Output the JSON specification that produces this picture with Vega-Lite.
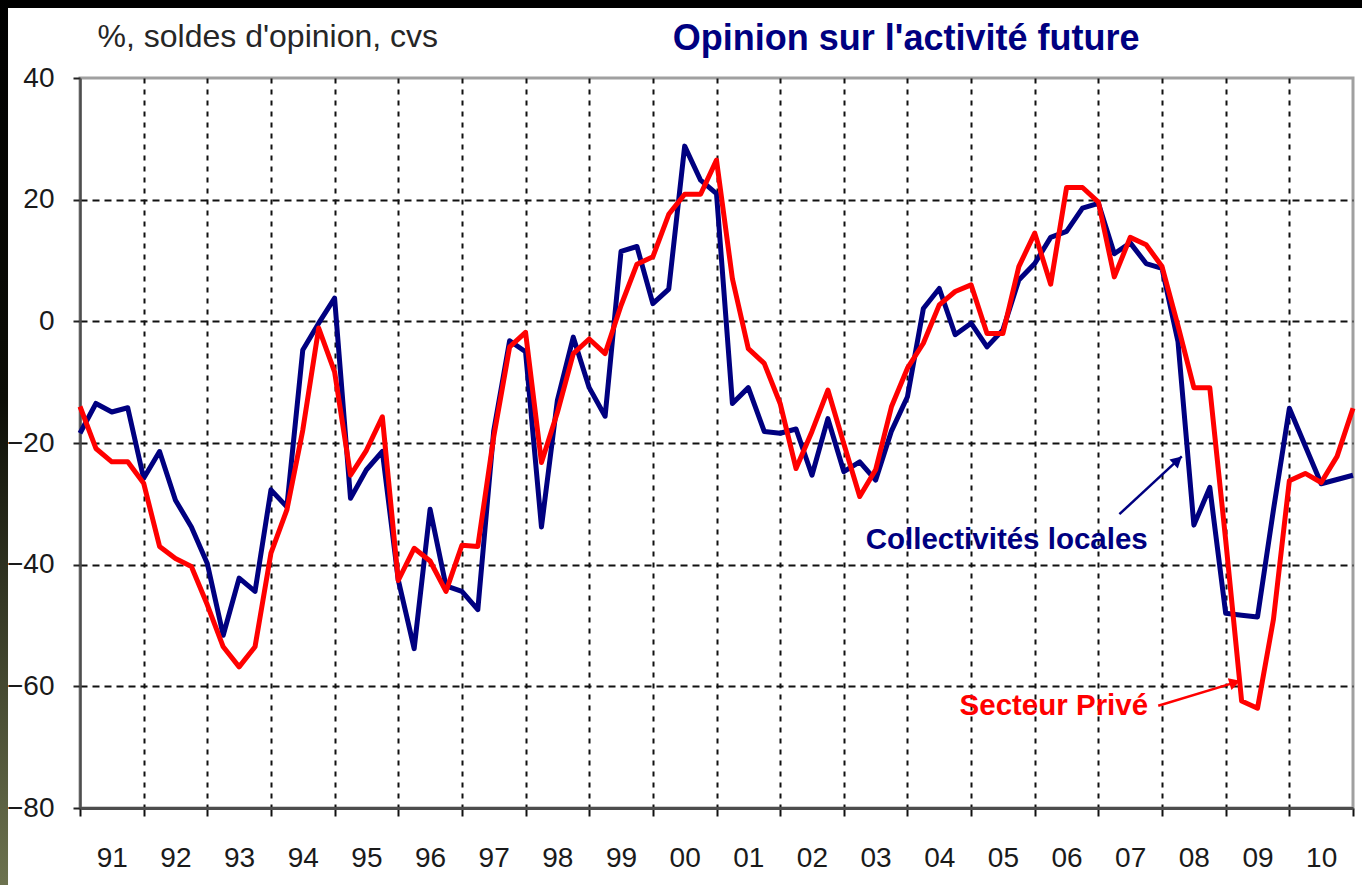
{
  "$schema": "https://vega.github.io/schema/vega-lite/v6.json",
  "width": 1273,
  "height": 730,
  "autosize": {"type": "none"},
  "padding": {"left": 80, "top": 78, "right": 9, "bottom": 77},
  "background": "white",
  "config": {"view": {"stroke": "#a0a0a0", "strokeWidth": 3}, "font": "Liberation Sans"},
  "datasets": {
    "series": [
      {"t": 1991.0, "serie": "Collectivités locales", "v": -18.4},
      {"t": 1991.25, "serie": "Collectivités locales", "v": -13.5},
      {"t": 1991.5, "serie": "Collectivités locales", "v": -14.9},
      {"t": 1991.75, "serie": "Collectivités locales", "v": -14.2},
      {"t": 1992.0, "serie": "Collectivités locales", "v": -25.8},
      {"t": 1992.25, "serie": "Collectivités locales", "v": -21.4},
      {"t": 1992.5, "serie": "Collectivités locales", "v": -29.4},
      {"t": 1992.75, "serie": "Collectivités locales", "v": -33.8},
      {"t": 1993.0, "serie": "Collectivités locales", "v": -39.8},
      {"t": 1993.25, "serie": "Collectivités locales", "v": -51.6},
      {"t": 1993.5, "serie": "Collectivités locales", "v": -42.2},
      {"t": 1993.75, "serie": "Collectivités locales", "v": -44.4},
      {"t": 1994.0, "serie": "Collectivités locales", "v": -27.7},
      {"t": 1994.25, "serie": "Collectivités locales", "v": -30.5},
      {"t": 1994.5, "serie": "Collectivités locales", "v": -4.7},
      {"t": 1994.75, "serie": "Collectivités locales", "v": -0.3},
      {"t": 1995.0, "serie": "Collectivités locales", "v": 3.8},
      {"t": 1995.25, "serie": "Collectivités locales", "v": -29.1},
      {"t": 1995.5, "serie": "Collectivités locales", "v": -24.4},
      {"t": 1995.75, "serie": "Collectivités locales", "v": -21.4},
      {"t": 1996.0, "serie": "Collectivités locales", "v": -42.5},
      {"t": 1996.25, "serie": "Collectivités locales", "v": -53.8},
      {"t": 1996.5, "serie": "Collectivités locales", "v": -30.9},
      {"t": 1996.75, "serie": "Collectivités locales", "v": -43.5},
      {"t": 1997.0, "serie": "Collectivités locales", "v": -44.4},
      {"t": 1997.25, "serie": "Collectivités locales", "v": -47.4},
      {"t": 1997.5, "serie": "Collectivités locales", "v": -18.0},
      {"t": 1997.75, "serie": "Collectivités locales", "v": -3.2},
      {"t": 1998.0, "serie": "Collectivités locales", "v": -5.0},
      {"t": 1998.25, "serie": "Collectivités locales", "v": -33.8},
      {"t": 1998.5, "serie": "Collectivités locales", "v": -13.0},
      {"t": 1998.75, "serie": "Collectivités locales", "v": -2.6},
      {"t": 1999.0, "serie": "Collectivités locales", "v": -10.9},
      {"t": 1999.25, "serie": "Collectivités locales", "v": -15.6},
      {"t": 1999.5, "serie": "Collectivités locales", "v": 11.5},
      {"t": 1999.75, "serie": "Collectivités locales", "v": 12.3},
      {"t": 2000.0, "serie": "Collectivités locales", "v": 2.9},
      {"t": 2000.25, "serie": "Collectivités locales", "v": 5.3},
      {"t": 2000.5, "serie": "Collectivités locales", "v": 28.8},
      {"t": 2000.75, "serie": "Collectivités locales", "v": 23.2},
      {"t": 2001.0, "serie": "Collectivités locales", "v": 21.0},
      {"t": 2001.25, "serie": "Collectivités locales", "v": -13.5},
      {"t": 2001.5, "serie": "Collectivités locales", "v": -10.9},
      {"t": 2001.75, "serie": "Collectivités locales", "v": -18.1},
      {"t": 2002.0, "serie": "Collectivités locales", "v": -18.4},
      {"t": 2002.25, "serie": "Collectivités locales", "v": -17.7},
      {"t": 2002.5, "serie": "Collectivités locales", "v": -25.3},
      {"t": 2002.75, "serie": "Collectivités locales", "v": -16.0},
      {"t": 2003.0, "serie": "Collectivités locales", "v": -24.7},
      {"t": 2003.25, "serie": "Collectivités locales", "v": -23.1},
      {"t": 2003.5, "serie": "Collectivités locales", "v": -26.1},
      {"t": 2003.75, "serie": "Collectivités locales", "v": -18.0},
      {"t": 2004.0, "serie": "Collectivités locales", "v": -12.4},
      {"t": 2004.25, "serie": "Collectivités locales", "v": 2.1},
      {"t": 2004.5, "serie": "Collectivités locales", "v": 5.4},
      {"t": 2004.75, "serie": "Collectivités locales", "v": -2.2},
      {"t": 2005.0, "serie": "Collectivités locales", "v": -0.3},
      {"t": 2005.25, "serie": "Collectivités locales", "v": -4.2},
      {"t": 2005.5, "serie": "Collectivités locales", "v": -1.4},
      {"t": 2005.75, "serie": "Collectivités locales", "v": 6.8},
      {"t": 2006.0, "serie": "Collectivités locales", "v": 9.5},
      {"t": 2006.25, "serie": "Collectivités locales", "v": 13.8},
      {"t": 2006.5, "serie": "Collectivités locales", "v": 14.8},
      {"t": 2006.75, "serie": "Collectivités locales", "v": 18.6},
      {"t": 2007.0, "serie": "Collectivités locales", "v": 19.4},
      {"t": 2007.25, "serie": "Collectivités locales", "v": 11.1},
      {"t": 2007.5, "serie": "Collectivités locales", "v": 12.9},
      {"t": 2007.75, "serie": "Collectivités locales", "v": 9.5},
      {"t": 2008.0, "serie": "Collectivités locales", "v": 8.7},
      {"t": 2008.25, "serie": "Collectivités locales", "v": -3.3},
      {"t": 2008.5, "serie": "Collectivités locales", "v": -33.5},
      {"t": 2008.75, "serie": "Collectivités locales", "v": -27.3},
      {"t": 2009.0, "serie": "Collectivités locales", "v": -48.0},
      {"t": 2009.25, "serie": "Collectivités locales", "v": -48.3},
      {"t": 2009.5, "serie": "Collectivités locales", "v": -48.6},
      {"t": 2009.75, "serie": "Collectivités locales", "v": -31.0},
      {"t": 2010.0, "serie": "Collectivités locales", "v": -14.3},
      {"t": 2010.25, "serie": "Collectivités locales", "v": -20.5},
      {"t": 2010.5, "serie": "Collectivités locales", "v": -26.7},
      {"t": 2010.75, "serie": "Collectivités locales", "v": -26.0},
      {"t": 2011.0, "serie": "Collectivités locales", "v": -25.3},
      {"t": 1991.0, "serie": "Secteur Privé", "v": -14.0},
      {"t": 1991.25, "serie": "Secteur Privé", "v": -20.9},
      {"t": 1991.5, "serie": "Secteur Privé", "v": -23.1},
      {"t": 1991.75, "serie": "Secteur Privé", "v": -23.1},
      {"t": 1992.0, "serie": "Secteur Privé", "v": -26.6},
      {"t": 1992.25, "serie": "Secteur Privé", "v": -37.0},
      {"t": 1992.5, "serie": "Secteur Privé", "v": -39.0},
      {"t": 1992.75, "serie": "Secteur Privé", "v": -40.3},
      {"t": 1993.0, "serie": "Secteur Privé", "v": -46.6},
      {"t": 1993.25, "serie": "Secteur Privé", "v": -53.5},
      {"t": 1993.5, "serie": "Secteur Privé", "v": -56.8},
      {"t": 1993.75, "serie": "Secteur Privé", "v": -53.5},
      {"t": 1994.0, "serie": "Secteur Privé", "v": -38.1},
      {"t": 1994.25, "serie": "Secteur Privé", "v": -31.0},
      {"t": 1994.5, "serie": "Secteur Privé", "v": -17.9},
      {"t": 1994.75, "serie": "Secteur Privé", "v": -1.1},
      {"t": 1995.0, "serie": "Secteur Privé", "v": -8.3},
      {"t": 1995.25, "serie": "Secteur Privé", "v": -25.3},
      {"t": 1995.5, "serie": "Secteur Privé", "v": -21.2},
      {"t": 1995.75, "serie": "Secteur Privé", "v": -15.7},
      {"t": 1996.0, "serie": "Secteur Privé", "v": -42.6},
      {"t": 1996.25, "serie": "Secteur Privé", "v": -37.3},
      {"t": 1996.5, "serie": "Secteur Privé", "v": -39.4},
      {"t": 1996.75, "serie": "Secteur Privé", "v": -44.4},
      {"t": 1997.0, "serie": "Secteur Privé", "v": -36.8},
      {"t": 1997.25, "serie": "Secteur Privé", "v": -37.0},
      {"t": 1997.5, "serie": "Secteur Privé", "v": -19.0},
      {"t": 1997.75, "serie": "Secteur Privé", "v": -4.2},
      {"t": 1998.0, "serie": "Secteur Privé", "v": -1.8},
      {"t": 1998.25, "serie": "Secteur Privé", "v": -23.2},
      {"t": 1998.5, "serie": "Secteur Privé", "v": -15.0},
      {"t": 1998.75, "serie": "Secteur Privé", "v": -5.3},
      {"t": 1999.0, "serie": "Secteur Privé", "v": -2.9},
      {"t": 1999.25, "serie": "Secteur Privé", "v": -5.3},
      {"t": 1999.5, "serie": "Secteur Privé", "v": 2.6},
      {"t": 1999.75, "serie": "Secteur Privé", "v": 9.4},
      {"t": 2000.0, "serie": "Secteur Privé", "v": 10.6},
      {"t": 2000.25, "serie": "Secteur Privé", "v": 17.6},
      {"t": 2000.5, "serie": "Secteur Privé", "v": 20.9},
      {"t": 2000.75, "serie": "Secteur Privé", "v": 20.9},
      {"t": 2001.0, "serie": "Secteur Privé", "v": 26.5},
      {"t": 2001.25, "serie": "Secteur Privé", "v": 7.0},
      {"t": 2001.5, "serie": "Secteur Privé", "v": -4.5},
      {"t": 2001.75, "serie": "Secteur Privé", "v": -6.9},
      {"t": 2002.0, "serie": "Secteur Privé", "v": -13.5},
      {"t": 2002.25, "serie": "Secteur Privé", "v": -24.2},
      {"t": 2002.5, "serie": "Secteur Privé", "v": -18.1},
      {"t": 2002.75, "serie": "Secteur Privé", "v": -11.3},
      {"t": 2003.0, "serie": "Secteur Privé", "v": -20.1},
      {"t": 2003.25, "serie": "Secteur Privé", "v": -28.8},
      {"t": 2003.5, "serie": "Secteur Privé", "v": -24.4},
      {"t": 2003.75, "serie": "Secteur Privé", "v": -14.0},
      {"t": 2004.0, "serie": "Secteur Privé", "v": -7.7},
      {"t": 2004.25, "serie": "Secteur Privé", "v": -3.6},
      {"t": 2004.5, "serie": "Secteur Privé", "v": 2.7},
      {"t": 2004.75, "serie": "Secteur Privé", "v": 4.9},
      {"t": 2005.0, "serie": "Secteur Privé", "v": 6.0},
      {"t": 2005.25, "serie": "Secteur Privé", "v": -2.0},
      {"t": 2005.5, "serie": "Secteur Privé", "v": -2.0},
      {"t": 2005.75, "serie": "Secteur Privé", "v": 9.0},
      {"t": 2006.0, "serie": "Secteur Privé", "v": 14.5},
      {"t": 2006.25, "serie": "Secteur Privé", "v": 6.1},
      {"t": 2006.5, "serie": "Secteur Privé", "v": 22.0},
      {"t": 2006.75, "serie": "Secteur Privé", "v": 22.0},
      {"t": 2007.0, "serie": "Secteur Privé", "v": 19.6},
      {"t": 2007.25, "serie": "Secteur Privé", "v": 7.3},
      {"t": 2007.5, "serie": "Secteur Privé", "v": 13.8},
      {"t": 2007.75, "serie": "Secteur Privé", "v": 12.6},
      {"t": 2008.0, "serie": "Secteur Privé", "v": 9.0},
      {"t": 2008.25, "serie": "Secteur Privé", "v": -0.7},
      {"t": 2008.5, "serie": "Secteur Privé", "v": -10.9},
      {"t": 2008.75, "serie": "Secteur Privé", "v": -10.9},
      {"t": 2009.0, "serie": "Secteur Privé", "v": -36.0},
      {"t": 2009.25, "serie": "Secteur Privé", "v": -62.4},
      {"t": 2009.5, "serie": "Secteur Privé", "v": -63.6},
      {"t": 2009.75, "serie": "Secteur Privé", "v": -49.0},
      {"t": 2010.0, "serie": "Secteur Privé", "v": -26.2},
      {"t": 2010.25, "serie": "Secteur Privé", "v": -25.0},
      {"t": 2010.5, "serie": "Secteur Privé", "v": -26.5},
      {"t": 2010.75, "serie": "Secteur Privé", "v": -22.2},
      {"t": 2011.0, "serie": "Secteur Privé", "v": -14.3}
    ],
    "labels": [
      {"t": 2005.56, "v": -37.4, "serie": "Collectivités locales", "label": "Collectivités locales"},
      {"t": 2006.3, "v": -64.7, "serie": "Secteur Privé", "label": "Secteur Privé"}
    ],
    "arrows": [
      {"serie": "Collectivités locales", "t": 2007.33, "v": -31.7, "t2": 2008.31, "v2": -22.2},
      {"serie": "Secteur Privé", "t": 2007.94, "v": -63.2, "t2": 2009.23, "v2": -59.1}
    ]
  },
  "layer": [
    {
      "data": {"name": "series"},
      "mark": {"type": "line", "strokeWidth": 5, "strokeJoin": "round"},
      "encoding": {
        "x": {
          "field": "t", "type": "quantitative",
          "scale": {"domain": [1991, 2011], "nice": false, "zero": false},
          "axis": {
            "title": null,
            "values": [1991, 1992, 1993, 1994, 1995, 1996, 1997, 1998, 1999, 2000, 2001, 2002, 2003, 2004, 2005, 2006, 2007, 2008, 2009, 2010, 2011],
            "labelExpr": "datum.value == 2011 ? '' : slice('0' + (datum.value % 100), -2)",
            "labelOffset": 31.8,
            "labelFlush": false,
            "labelOverlap": false,
            "labelBound": false,
            "labelFontSize": 28,
            "labelFont": "Liberation Sans",
            "labelColor": "#1a1a1a",
            "labelPadding": 28,
            "tickSize": 8,
            "tickWidth": 2,
            "tickColor": "#111111",
            "domainColor": "#4d4d4d",
            "domainWidth": 3,
            "grid": true,
            "gridColor": "#111111",
            "gridWidth": 2,
            "gridDash": [5, 6],
            "gridOpacity": {"condition": {"test": "datum.value == 1991 || datum.value == 2011", "value": 0}, "value": 1}
          }
        },
        "y": {
          "field": "v", "type": "quantitative",
          "scale": {"domain": [-80, 40], "nice": false, "zero": false},
          "axis": {
            "title": "%, soldes d'opinion, cvs",
            "titleAngle": 0,
            "titleAlign": "left",
            "titleBaseline": "alphabetic",
            "titleX": 17,
            "titleY": -32,
            "titleFontSize": 32,
            "titleFontWeight": "normal",
            "titleFont": "Liberation Sans",
            "titleColor": "#262626",
            "values": [-80, -60, -40, -20, 0, 20, 40],
            "labelFontSize": 28,
            "labelFont": "Liberation Sans",
            "labelColor": "#1a1a1a",
            "labelPadding": 19,
            "tickSize": 7,
            "tickWidth": 2,
            "tickColor": "#222222",
            "domainColor": "#4d4d4d",
            "domainWidth": 2.5,
            "grid": true,
            "gridColor": "#111111",
            "gridWidth": 2,
            "gridDash": [7, 5],
            "gridOpacity": {"condition": {"test": "datum.value == 40 || datum.value == -80", "value": 0}, "value": 1}
          }
        },
        "color": {
          "field": "serie", "type": "nominal",
          "scale": {"domain": ["Collectivités locales", "Secteur Privé"], "range": ["#000080", "#ff0000"]},
          "legend": null
        }
      }
    },
    {
      "data": {"name": "arrows"},
      "mark": {"type": "rule", "strokeWidth": 2.5},
      "encoding": {
        "x": {"field": "t", "type": "quantitative"},
        "y": {"field": "v", "type": "quantitative"},
        "x2": {"field": "t2"},
        "y2": {"field": "v2"},
        "color": {"field": "serie", "type": "nominal"}
      }
    },
    {
      "data": {"name": "arrows"},
      "mark": {"type": "point", "shape": "M0,0L-0.55,1L0.55,1Z", "filled": true, "size": 500, "opacity": 1},
      "encoding": {
        "x": {"field": "t2", "type": "quantitative"},
        "y": {"field": "v2", "type": "quantitative"},
        "angle": {"field": "serie", "type": "nominal", "scale": {"domain": ["Collectivités locales", "Secteur Privé"], "range": [47, 73]}, "legend": null},
        "color": {"field": "serie", "type": "nominal"}
      }
    },
    {
      "data": {"name": "labels"},
      "mark": {"type": "text", "font": "Liberation Sans", "fontWeight": "bold", "fontSize": 29.5, "align": "center", "baseline": "alphabetic"},
      "encoding": {
        "x": {"field": "t", "type": "quantitative"},
        "y": {"field": "v", "type": "quantitative"},
        "text": {"field": "label"},
        "color": {"field": "serie", "type": "nominal"}
      }
    },
    {
      "data": {"values": [{}]},
      "mark": {"type": "text", "text": "Opinion sur l'activité future", "font": "Liberation Sans", "fontWeight": "bold", "fontSize": 36, "align": "center", "baseline": "alphabetic", "color": "#000080"},
      "encoding": {
        "x": {"datum": 2003.98},
        "y": {"datum": 44.6}
      }
    },
    {
      "data": {"values": [{}]},
      "mark": {"type": "rect", "color": "#000000"},
      "encoding": {
        "x": {"datum": 1989.6},
        "x2": {"datum": 2011.3},
        "y": {"datum": 54},
        "y2": {"datum": 51.5}
      }
    },
    {
      "data": {"values": [{}]},
      "mark": {"type": "rect", "color": {"gradient": "linear", "x1": 0, "y1": 0, "x2": 0, "y2": 1, "stops": [{"offset": 0, "color": "#000000"}, {"offset": 0.45, "color": "#0c0d06"}, {"offset": 1, "color": "#6e7450"}]}},
      "encoding": {
        "x": {"datum": 1989.6},
        "x2": {"datum": 1989.869},
        "y": {"datum": 54},
        "y2": {"datum": -94}
      }
    }
  ]
}
